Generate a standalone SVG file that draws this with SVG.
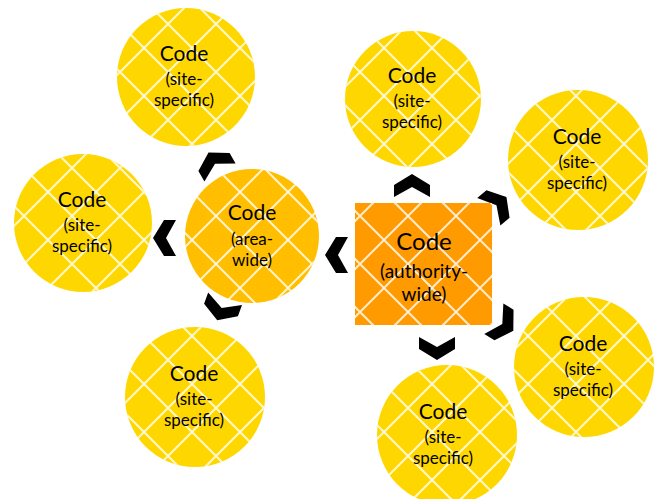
<svg xmlns="http://www.w3.org/2000/svg" xmlns:xlink="http://www.w3.org/1999/xlink" width="656" height="499" viewBox="0 0 656 499">
  <defs>
    <!-- white diamond lattice laid over the filled shapes -->
    <pattern id="lattice" patternUnits="userSpaceOnUse" width="48" height="48">
      <path d="M0,0 L48,48 M48,0 L0,48" stroke="#ffffff" stroke-width="2" stroke-opacity="0.8" fill="none"/>
    </pattern>
    <!-- chevron pointing up, centred on the origin -->
    <path id="chev" d="M0,-11 L18,0 L18,12 L0,2 L-18,12 L-18,0 Z"/>
    <style>
      .site { fill: #FFD700; }
      .area { fill: #FFBF00; }
      .auth { fill: #FF9A00; }
      .grid { fill: url(#lattice); }
      text { font-family: Lato, "Open Sans", "Liberation Sans", sans-serif; fill: #000; text-anchor: middle; }
      .t1 { font-size: 21px; }
      .t2 { font-size: 17px; }
      .big1 { font-size: 24px; }
      .big2 { font-size: 19px; }
      .chev { fill: #000; }
    </style>
  </defs>

  <rect width="656" height="499" fill="#ffffff"/>

  <!-- connectors: chevrons pointing outwards -->
  <g id="connectors" class="chev">
    <use href="#chev" transform="translate(412,185)"/>
    <use href="#chev" transform="translate(498,204) rotate(50)"/>
    <use href="#chev" transform="translate(504,325) rotate(122)"/>
    <use href="#chev" transform="translate(437,349) rotate(180)"/>
    <use href="#chev" transform="translate(336,255) rotate(-90)"/>
    <use href="#chev" transform="translate(164,238) rotate(-90)"/>
    <use href="#chev" transform="translate(214,162) rotate(-30)"/>
    <use href="#chev" transform="translate(221,310) rotate(200)"/>
  </g>

  <g id="authority">
    <rect class="auth" x="355" y="203" width="137" height="122"/>
    <rect class="grid" x="355" y="203" width="137" height="122"/>
    <text class="big1" x="424" y="250">Code</text>
    <text class="big2" x="424" y="278">(authority-</text>
    <text class="big2" x="424" y="301">wide)</text>
  </g>

  <g id="area">
    <circle class="area" cx="252" cy="236" r="67"/>
    <circle class="grid" cx="252" cy="236" r="67"/>
    <text class="t1" x="252" y="220">Code</text>
    <text class="t2" x="252" y="245">(area-</text>
    <text class="t2" x="252" y="266">wide)</text>
  </g>

  <g id="site-top-left">
    <circle class="site" cx="186" cy="77" r="69"/>
    <circle class="grid" cx="186" cy="77" r="69"/>
    <text class="t1" x="184" y="61">Code</text>
    <text class="t2" x="184" y="85">(site-</text>
    <text class="t2" x="184" y="106">specific)</text>
  </g>

  <g id="site-left">
    <circle class="site" cx="83" cy="223" r="69"/>
    <circle class="grid" cx="83" cy="223" r="69"/>
    <text class="t1" x="82" y="207">Code</text>
    <text class="t2" x="82" y="231">(site-</text>
    <text class="t2" x="82" y="252">specific)</text>
  </g>

  <g id="site-bottom-left">
    <circle class="site" cx="195" cy="397" r="70"/>
    <circle class="grid" cx="195" cy="397" r="70"/>
    <text class="t1" x="194" y="381">Code</text>
    <text class="t2" x="194" y="405">(site-</text>
    <text class="t2" x="194" y="426">specific)</text>
  </g>

  <g id="site-top">
    <circle class="site" cx="413" cy="99" r="68"/>
    <circle class="grid" cx="413" cy="99" r="68"/>
    <text class="t1" x="412" y="83">Code</text>
    <text class="t2" x="412" y="107">(site-</text>
    <text class="t2" x="412" y="128">specific)</text>
  </g>

  <g id="site-top-right">
    <circle class="site" cx="578" cy="160" r="70"/>
    <circle class="grid" cx="578" cy="160" r="70"/>
    <text class="t1" x="577" y="144">Code</text>
    <text class="t2" x="577" y="168">(site-</text>
    <text class="t2" x="577" y="189">specific)</text>
  </g>

  <g id="site-bottom-right">
    <circle class="site" cx="584" cy="367" r="70"/>
    <circle class="grid" cx="584" cy="367" r="70"/>
    <text class="t1" x="583" y="351">Code</text>
    <text class="t2" x="583" y="375">(site-</text>
    <text class="t2" x="583" y="396">specific)</text>
  </g>

  <g id="site-bottom">
    <circle class="site" cx="447" cy="435" r="70"/>
    <circle class="grid" cx="447" cy="435" r="70"/>
    <text class="t1" x="443" y="419">Code</text>
    <text class="t2" x="443" y="443">(site-</text>
    <text class="t2" x="443" y="464">specific)</text>
  </g>
</svg>
